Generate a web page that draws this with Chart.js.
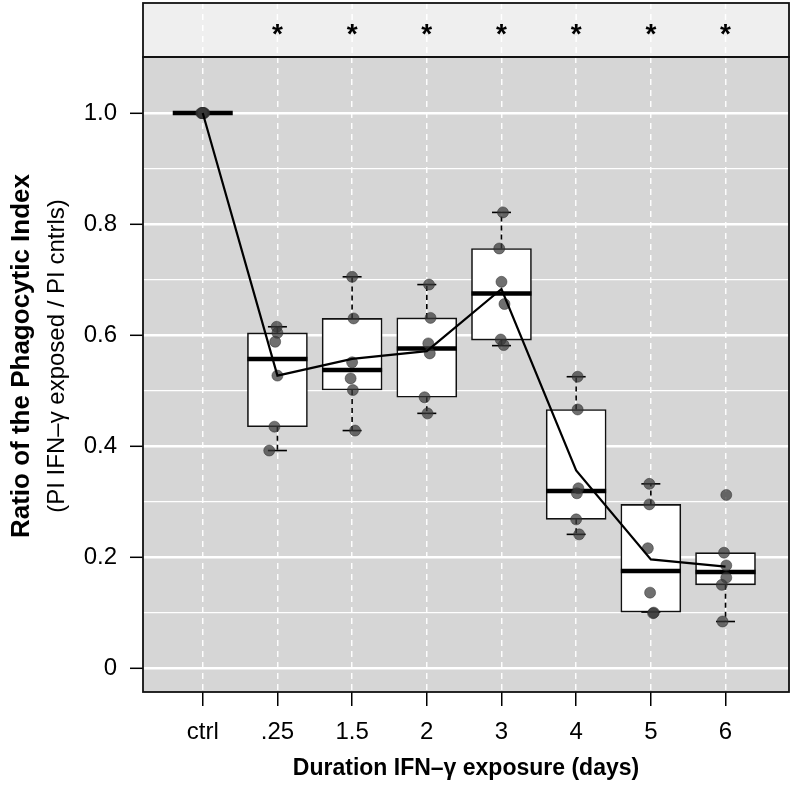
<!DOCTYPE html>
<html>
<head>
<meta charset="utf-8">
<script src="https://cdn.jsdelivr.net/npm/chart.js@4/dist/chart.umd.min.js"></script>
<style>
html,body{margin:0;padding:0;background:#fff;}
#wrap{width:792px;height:785px;}
</style>
</head>
<body>
<div id="wrap"><canvas id="boxChart" width="792" height="785"></canvas></div>
<script>
// groups on the x axis
const categories = ["ctrl", ".25", "1.5", "2", "3", "4", "5", "6"];
const significance = ["", "*", "*", "*", "*", "*", "*", "*"];

// box statistics
const q1 = [1.0, 0.435, 0.501, 0.488, 0.591, 0.268, 0.101, 0.150];
const q3 = [1.0, 0.604, 0.630, 0.631, 0.756, 0.466, 0.295, 0.208];
const medians = [1.0, 0.557, 0.537, 0.576, 0.675, 0.319, 0.175, 0.173];
const whiskerLow = [1.0, 0.392, 0.428, 0.459, 0.581, 0.241, 0.101, 0.084];
const whiskerHigh = [1.0, 0.615, 0.705, 0.691, 0.821, 0.525, 0.332, 0.208];
const means = [1.0, 0.527, 0.557, 0.571, 0.683, 0.356, 0.196, 0.183];

// individual experiments
const points = [
[1.0, 1.0, 1.0, 1.0, 1.0, 1.0],
[0.615, 0.604, 0.588, 0.527, 0.435, 0.392],
[0.705, 0.630, 0.551, 0.522, 0.501, 0.428],
[0.691, 0.631, 0.585, 0.567, 0.488, 0.459],
[0.821, 0.756, 0.696, 0.656, 0.592, 0.582],
[0.525, 0.466, 0.324, 0.315, 0.268, 0.241],
[0.332, 0.295, 0.216, 0.136, 0.100, 0.099],
[0.312, 0.208, 0.185, 0.163, 0.150, 0.084]
];
// horizontal jitter of those points (category units)
const jitter = [
[0, 0.02, -0.02, 0.01, -0.01, 0],
[-0.01, 0, -0.03, 0, -0.04, -0.11],
[0, 0.02, 0, -0.02, 0.01, 0.04],
[0.03, 0.05, 0.02, 0.04, -0.03, 0.01],
[0.02, -0.03, 0, 0.04, -0.01, 0.03],
[0.02, 0.02, 0.03, 0.01, 0, 0.04],
[-0.02, -0.02, -0.04, -0.01, 0.04, 0.03],
[0.01, -0.02, 0.01, 0.01, -0.05, -0.04]
];

const yMajor = [0, 0.2, 0.4, 0.6, 0.8, 1.0];
const yLabels = ["0", "0.2", "0.4", "0.6", "0.8", "1.0"];
const yMinor = [0.1, 0.3, 0.5, 0.7, 0.9];

const FONT = "'Liberation Sans', Arial, Helvetica, sans-serif";

// ctrl has no box, only its median bar
const boxData = [];
categories.forEach((c, i) => { if (q3[i] > q1[i]) boxData.push({x: i, y: [q1[i], q3[i]]}); });
const medianData = categories.map((c, i) => ({x: i, y: medians[i]}));
const capData = [];
const whiskerData = [];
categories.forEach((c, i) => {
if (i === 0) return;
if (whiskerHigh[i] > q3[i]) {
capData.push({x: i, y: whiskerHigh[i]});
whiskerData.push({x: i, y: q3[i]}, {x: i, y: whiskerHigh[i]}, {x: i, y: null});
}
capData.push({x: i, y: whiskerLow[i]});
if (whiskerLow[i] < q1[i]) {
whiskerData.push({x: i, y: q1[i]}, {x: i, y: whiskerLow[i]}, {x: i, y: null});
}
});
const pointData = [];
points.forEach((arr, i) => arr.forEach((v, k) => pointData.push({x: i + jitter[i][k], y: v})));
const meanData = categories.map((c, i) => ({x: i, y: means[i]}));

const framePlugin = {
id: "frame",
beforeDraw(chart) {
const {ctx, chartArea: a} = chart;
ctx.save();
ctx.fillStyle = "#d6d6d6";
ctx.fillRect(a.left, a.top, a.right - a.left, a.bottom - a.top);
ctx.fillStyle = "#efefef";
ctx.fillRect(a.left, 3, a.right - a.left, a.top - 3);
ctx.restore();
},
afterDraw(chart) {
const {ctx, chartArea: a, scales} = chart;
const x = scales.x;
ctx.save();
// dashed lines through the strip
ctx.strokeStyle = "#ffffff";
ctx.lineWidth = 1.5;
ctx.setLineDash([6, 5]);
categories.forEach((c, i) => {
const px = x.getPixelForValue(i);
ctx.beginPath();
ctx.moveTo(px, 3);
ctx.lineTo(px, a.top);
ctx.stroke();
});
ctx.setLineDash([]);
// frames
ctx.strokeStyle = "#111";
ctx.lineWidth = 1.8;
ctx.strokeRect(a.left, a.top, a.right - a.left, a.bottom - a.top);
ctx.strokeRect(a.left, 3, a.right - a.left, a.top - 3);
// asterisks
ctx.fillStyle = "#000";
ctx.font = "bold 28px " + FONT;
ctx.textAlign = "center";
ctx.textBaseline = "middle";
significance.forEach((s, i) => {
if (s) ctx.fillText(s, x.getPixelForValue(i), 35);
});
// axis titles
ctx.font = "bold 23px " + FONT;
ctx.fillText("Duration IFN\u2013\u03b3 exposure (days)", (a.left + a.right) / 2, 769);
ctx.translate(22, 356);
ctx.rotate(-Math.PI / 2);
ctx.font = "bold 26px " + FONT;
ctx.fillText("Ratio of the Phagocytic Index", 0, 0);
ctx.font = "24px " + FONT;
ctx.fillText("(PI IFN\u2013\u03b3 exposed / PI cntrls)", 0, 35);
ctx.restore();
}
};

new Chart(document.getElementById("boxChart"), {
type: "scatter",
data: {
datasets: [
{
label: "mean",
showLine: true,
data: meanData,
borderColor: "#000",
borderWidth: 2.2,
pointRadius: 0,
order: 0
},
{
label: "points",
data: pointData,
backgroundColor: "rgba(55,55,55,0.72)",
borderColor: "rgba(40,40,40,0.6)",
borderWidth: 0.8,
pointRadius: 5.5,
order: 1
},
{
label: "caps",
data: capData,
pointStyle: "line",
pointRadius: 9.5,
borderColor: "#000",
borderWidth: 1.6,
order: 2
},
{
label: "medians",
data: medianData,
pointStyle: "line",
pointRadius: 30,
borderColor: "#000",
borderWidth: 4.5,
order: 3
},
{
label: "whiskers",
showLine: true,
spanGaps: false,
data: whiskerData,
borderColor: "#000",
borderWidth: 1.6,
borderDash: [5, 4],
pointRadius: 0,
order: 4
},
{
label: "boxes",
type: "bar",
data: boxData,
backgroundColor: "#ffffff",
borderColor: "#111",
borderWidth: 1.6,
borderSkipped: false,
barThickness: 60,
order: 5
}
]
},
options: {
responsive: false,
animation: false,
events: [],
layout: {autoPadding: false, padding: {top: 57, right: 3, left: 0, bottom: 0}},
plugins: {
legend: {display: false},
tooltip: {enabled: false}
},
scales: {
x: {
type: "linear",
min: -0.8,
max: 7.85,
offset: false,
afterFit: s => { s.height = 93; },
afterBuildTicks: s => { s.ticks = categories.map((c, i) => ({value: i})); },
ticks: {
autoSkip: false,
maxRotation: 0,
color: "#000",
padding: 12,
font: {family: FONT, size: 24},
callback: v => categories[v]
},
grid: {
offset: false,
color: "rgba(255,255,255,0.95)",
lineWidth: 1.5,
tickColor: "#000",
tickLength: 14,
tickWidth: 1.5,
tickBorderDash: []
},
border: {display: false, dash: [6, 5]}
},
y: {
min: -0.043,
max: 1.101,
afterFit: s => { s.width = 143; },
afterBuildTicks: s => { s.ticks = yMajor.concat(yMinor).sort((p, q) => p - q).map(v => ({value: v})); },
ticks: {
autoSkip: false,
color: "#000",
padding: 13,
font: {family: FONT, size: 24},
callback: v => { const k = yMajor.indexOf(v); return k < 0 ? "" : yLabels[k]; }
},
grid: {
color: "#ffffff",
lineWidth: c => (c.tick && yMajor.includes(c.tick.value)) ? 2.6 : 1.3,
tickColor: c => (c.tick && yMajor.includes(c.tick.value)) ? "#000" : "rgba(0,0,0,0)",
tickLength: 13,
tickWidth: 1.5
},
border: {display: false}
}
}
},
plugins: [framePlugin]
});
</script>
</body>
</html>
